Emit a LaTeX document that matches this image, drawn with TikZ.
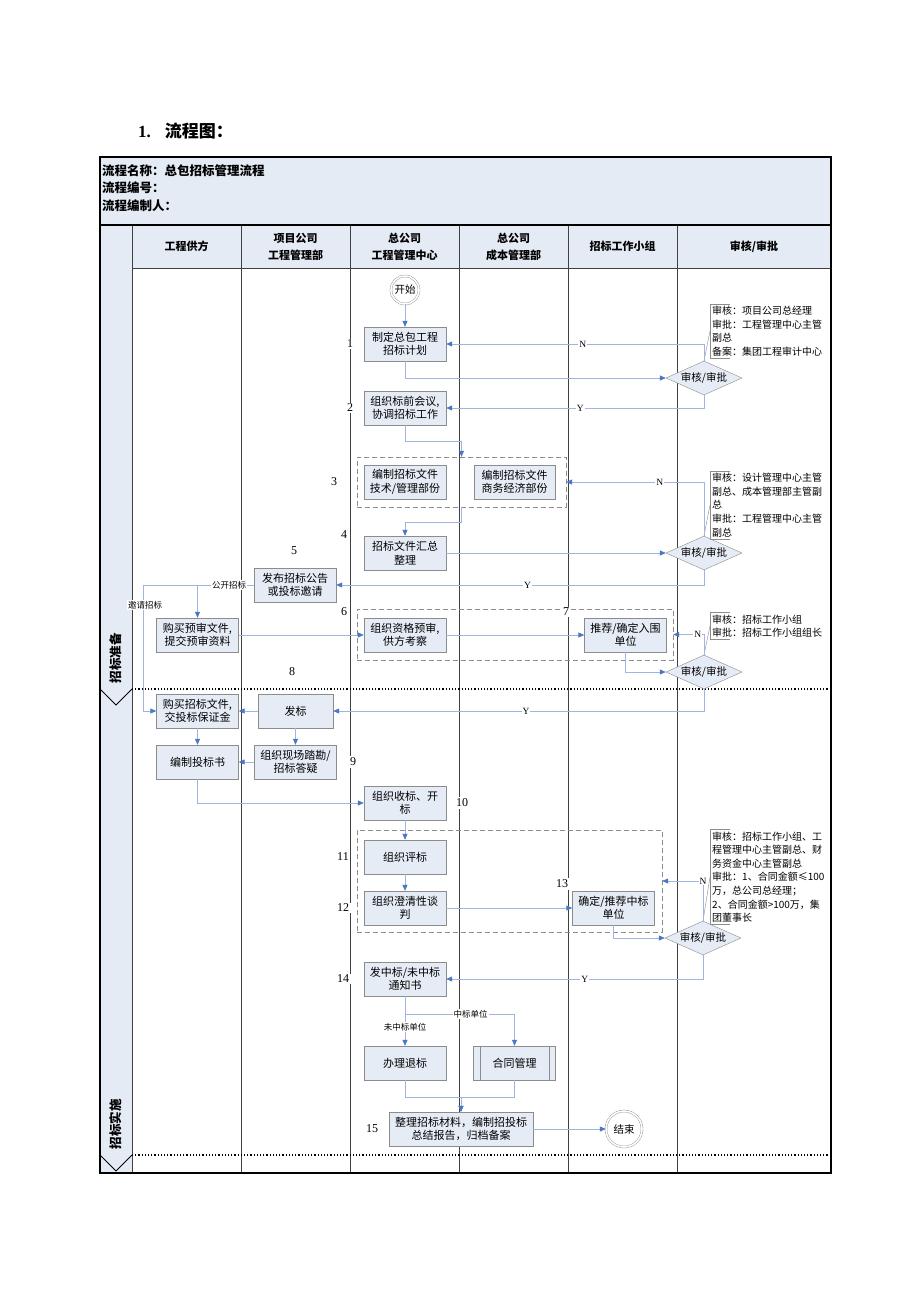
\documentclass[tikz,border=0pt]{standalone}
\usepackage{fontspec}
\setmainfont{Liberation Serif}
\newfontfamily\cjk{Noto Sans CJK SC}
\usetikzlibrary{shapes.geometric,arrows.meta}
\definecolor{boxfill}{HTML}{E6ECF6}
\definecolor{boxline}{HTML}{8C8C8C}
\definecolor{hdrfill}{HTML}{E5EBF5}
\definecolor{conline}{HTML}{9DB5E0}
\definecolor{arrblue}{HTML}{4A78C6}

\begin{document}
\begin{tikzpicture}[x=1pt,y=-1pt,
    box/.style={draw=boxline,fill=boxfill,minimum width=82pt,minimum height=34pt,inner sep=1pt,align=center,font=\cjk\fontsize{11}{13.5}\selectfont},
    decide/.style={diamond,draw=boxline,fill=boxfill,aspect=2.2,minimum width=76pt,minimum height=34pt,inner sep=0pt,font=\cjk\fontsize{10.5}{12}\selectfont},
    term/.style={circle,draw=boxline,double=white,double distance=1.6pt,fill=white,minimum size=28pt,inner sep=0pt,font=\cjk\fontsize{10.5}{12}\selectfont},
    grp/.style={draw=boxline,dash pattern=on 5pt off 3pt},
    conn/.style={draw=conline,line width=0.7pt,-{Triangle[length=6pt,width=5pt,color=arrblue]}},
    yn/.style={fill=white,inner sep=1pt,font=\fontsize{9.5}{10}\selectfont},
    tag/.style={fill=white,inner sep=1pt,font=\cjk\fontsize{8.5}{9}\selectfont},
    num/.style={fill=white,inner sep=1.5pt,font=\fontsize{12}{13}\selectfont},
    note/.style={anchor=west,align=left,inner sep=2pt,font=\cjk\fontsize{10}{13.6}\selectfont},
    hd/.style={align=center,font=\cjk\bfseries\fontsize{11}{17}\selectfont}
  ]
  \fill[white] (0,0) rectangle (920,1302);
  \useasboundingbox (0,0) rectangle (920,1302);

  \node[anchor=west,inner sep=0pt,font=\bfseries\fontsize{17}{20}\selectfont] (ttl) at (138,131) {1.\hspace{14pt}{\cjk\bfseries 流程图：}};

  % header
  \draw[line width=1.2pt,fill=hdrfill] (100,157) rectangle (831,225);
  \node[anchor=north west,align=left,inner sep=0pt,font=\cjk\bfseries\fontsize{12.5}{17.5}\selectfont] (info) at (102,164)
    {流程名称：总包招标管理流程\\流程编号：\\流程编制人：};

  % lanes
  \fill[hdrfill] (100,225) rectangle (132,1173);
  \fill[hdrfill] (132,225) rectangle (831,268);
  \draw[line width=0.6pt,black!75] (132,268) -- (831,268);
  \foreach \x in {132,241,350,459,568,677}
    \draw[line width=0.6pt,black!75] (\x,225) -- (\x,1173);
  \draw[line width=1.2pt] (100,225) rectangle (831,1173);
  \draw[line width=1.2pt,dotted] (132,689) -- (831,689);
  \draw[line width=1.2pt,dotted] (132,1155) -- (831,1155);
  \draw[line width=0.8pt] (100,689) -- (116,705) -- (132,689);
  \draw[line width=0.8pt] (100,1155) -- (116,1171) -- (132,1155);
  \node[rotate=90,font=\cjk\bfseries\fontsize{12.5}{14}\selectfont] (ph1) at (116,658) {招标准备};
  \node[rotate=90,font=\cjk\bfseries\fontsize{12.5}{14}\selectfont] (ph2) at (116,1124) {招标实施};

  \node[hd] (h1) at (186.5,246.5) {工程供方};
  \node[hd] (h2) at (295.5,246.5) {项目公司\\工程管理部};
  \node[hd] (h3) at (404.5,246.5) {总公司\\工程管理中心};
  \node[hd] (h4) at (513.5,246.5) {总公司\\成本管理部};
  \node[hd] (h5) at (622.5,246.5) {招标工作小组};
  \node[hd] (h6) at (754,246.5) {审核/审批};

  % groups
  \node[grp,minimum width=209pt,minimum height=50pt] (g3) at (461.5,482) {};
  \node[grp,minimum width=316pt,minimum height=51pt] (g6) at (515,634.5) {};
  \node[grp,minimum width=305pt,minimum height=102pt] (g11) at (509.5,881) {};

  % steps
  \node[term] (start) at (405,290) {开始};
  \node[box] (b1) at (405,344) {制定总包工程\\招标计划};
  \node[decide] (d1) at (704,378) {审核/审批};
  \node[note] (rem1) at (710,331) {审核：项目公司总经理\\审批：工程管理中心主管\\副总\\备案：集团工程审计中心};
  \node[box] (b2) at (405,408) {组织标前会议,\\协调招标工作};
  \node[box] (b3a) at (405,482) {编制招标文件\\技术/管理部份};
  \node[box,minimum width=81pt] (b3b) at (514.5,482) {编制招标文件\\商务经济部份};
  \node[decide] (d2) at (704,553) {审核/审批};
  \node[note] (rem2) at (710,505) {审核：设计管理中心主管\\副总、成本管理部主管副\\总\\审批：工程管理中心主管\\副总};
  \node[box] (b4) at (405,553) {招标文件汇总\\整理};
  \node[box] (b5) at (295,585) {发布招标公告\\或投标邀请};
  \node[box] (b6a) at (197.5,635) {购买预审文件,\\提交预审资料};
  \node[box] (b6) at (405,635) {组织资格预审,\\供方考察};
  \node[box] (b7) at (625.5,635) {推荐/确定入围\\单位};
  \node[decide] (d3) at (704,672) {审核/审批};
  \node[note] (rem3) at (710,626) {审核：招标工作小组\\审批：招标工作小组组长};
  \node[box] (b8a) at (197.5,711) {购买招标文件,\\交投标保证金};
  \node[box,minimum width=75pt] (b8b) at (295.5,711) {发标};
  \node[box] (b9a) at (197.5,762) {编制投标书};
  \node[box] (b9b) at (295.5,762) {组织现场踏勘/\\招标答疑};
  \node[box] (b10) at (405,803) {组织收标、开\\标};
  \node[box] (b11) at (405,857) {组织评标};
  \node[box] (b12) at (405,908) {组织澄清性谈\\判};
  \node[box] (b13) at (613.5,908) {确定/推荐中标\\单位};
  \node[decide] (d4) at (703,938) {审核/审批};
  \node[note] (rem4) at (710,877) {审核：招标工作小组、工\\程管理中心主管副总、财\\务资金中心主管副总\\审批：1、合同金额≤100\\万，总公司总经理；\\2、合同金额>100万，集\\团董事长};
  \node[box] (b14) at (405,979) {发中标/未中标\\通知书};
  \node[box] (b16a) at (405,1063) {办理退标};
  \node[box] (b16b) at (514.5,1063) {合同管理};
  \draw[boxline] ([xshift=7pt]b16b.north west) -- ([xshift=7pt]b16b.south west);
  \draw[boxline] ([xshift=-7pt]b16b.north east) -- ([xshift=-7pt]b16b.south east);
  \node[box,minimum width=144pt] (b15) at (461,1129) {整理招标材料，编制招投标\\总结报告，归档备案};
  \node[term,minimum size=36pt] (end) at (624,1129) {结束};

  % note brackets
  \foreach \r/\d in {rem1/d1,rem2/d2,rem3/d3,rem4/d4} {
    \draw[boxline] ([xshift=20pt]\r.north west) -- (\r.north west) -- (\r.south west) -- ([xshift=20pt]\r.south west);
    \draw[boxline] (\d.north) -- (\r.west);
  }

  % connectors
  \draw[conn] (start) -- (b1);
  \draw[conn] (b1.south) |- (d1.west);
  \draw[conn] (d1.north) |- node[yn,pos=0.735] {N} (b1.east);
  \draw[conn] (d1.south) |- node[yn,pos=0.74] {Y} (b2.east);
  \draw[conn] (b2.south) -- ++(0,16) -| (g3.north);
  \draw[conn] (d2.north) |- node[yn,pos=0.66] {N} (g3.east);
  \draw[conn] (g3.south) -- ++(0,15) -| (b4.north);
  \draw[conn] (b4) -- (d2);
  \draw[conn] (d2.south) |- node[yn,pos=0.74] {Y} (b5.east);
  \coordinate (k1) at (143,585);
  \draw[conn] (b5.west) -| (b6a.north);
  \draw[conn] (b5.west) -- (k1) |- (b8a.west);
  \node[tag] (lb1) at (229,585) {公开招标};
  \node[tag] (lb2) at (145,605) {邀请招标};
  \draw[conn] (b6a) -- (b6);
  \draw[conn] (b6) -- (b7);
  \draw[conn] (d3.north) |- node[yn,pos=0.6] {N} (g6.east);
  \draw[conn] (b7.south) |- (d3.west);
  \draw[conn] (d3.south) |- node[yn,pos=0.74] {Y} (b8b.east);
  \draw[conn] (b8b) -- (b8a);
  \draw[conn] (b8a) -- (b9a);
  \draw[conn] (b8b) -- (b9b);
  \draw[conn] (b9b) -- (b9a);
  \draw[conn] (b9a.south) |- (b10.west);
  \draw[conn] (b10) -- (b11);
  \draw[conn] (b11) -- (b12);
  \draw[conn] (b12) -- (b13);
  \draw[conn] (b13.south) |- (d4.west);
  \draw[conn] (d4.north) |- node[yn,pos=0.5] {N} (g11.east);
  \draw[conn] (d4.south) |- node[yn,pos=0.73] {Y} (b14.east);
  \draw[conn] (b14.south) -- ++(0,18) -| node[tag,pos=0.3] {中标单位} (b16b.north);
  \draw[conn] (b14) -- node[tag,pos=0.62] {未中标单位} (b16a);
  \draw[conn] (b16a.south) -- ++(0,17) -| (b15.north);
  \draw[conn] (b16b.south) -- ++(0,17) -| (b15.north);
  \draw[conn] (b15) -- (end);

  % step numbers
  \node[num] (t1) at (350,344) {1};
  \node[num] (t2) at (350,408) {2};
  \node[num] (t3) at (334,482) {3};
  \node[num] (t4) at (344,535) {4};
  \node[num] (t5) at (294,551) {5};
  \node[num] (t6) at (344,612) {6};
  \node[num] (t7) at (566,612) {7};
  \node[num] (t8) at (292,672) {8};
  \node[num] (t9) at (353,762) {9};
  \node[num] (t10) at (462,803) {10};
  \node[num] (t11) at (343,857) {11};
  \node[num] (t12) at (343,908) {12};
  \node[num] (t13) at (562,884) {13};
  \node[num] (t14) at (343,979) {14};
  \node[num] (t15) at (372,1129) {15};
\end{tikzpicture}
\end{document}
